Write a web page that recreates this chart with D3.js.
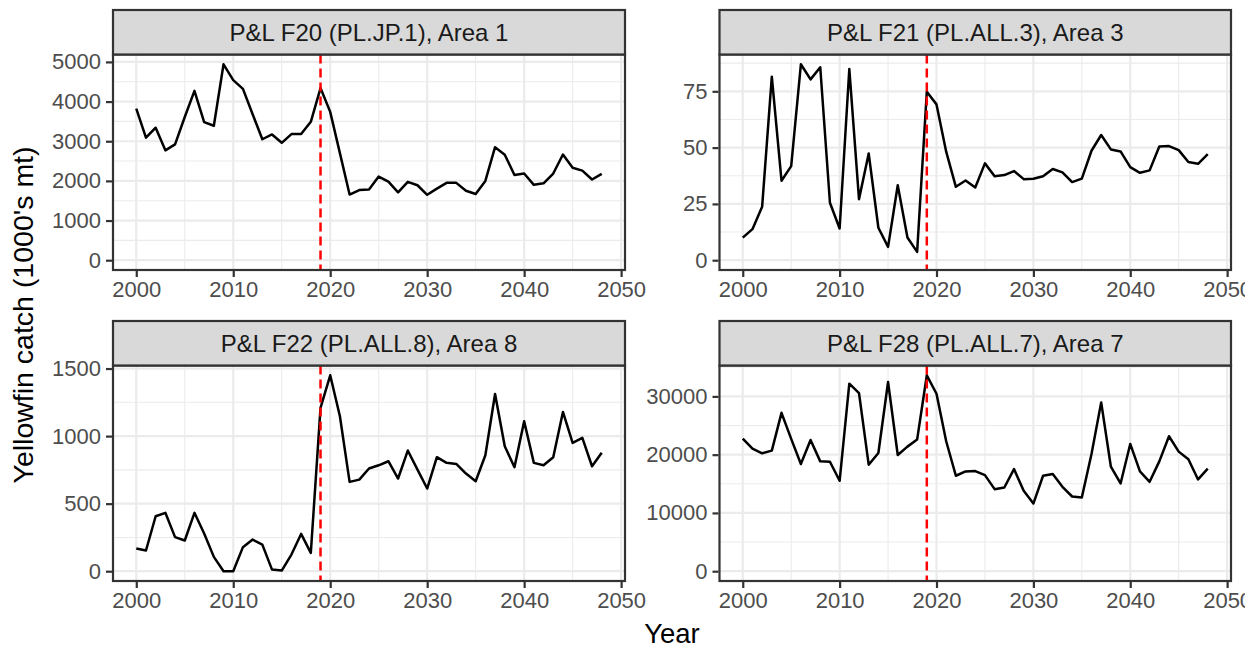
<!DOCTYPE html>
<html>
<head>
<meta charset="utf-8">
<script src="https://cdn.jsdelivr.net/npm/d3@7"></script>
<style>
  html, body { margin: 0; padding: 0; background: #ffffff; }
  svg { display: block; font-family: "Liberation Sans", Arial, Helvetica, sans-serif; }
</style>
</head>
<body>
<svg id="chart" width="1258" height="648"></svg>
<script>
// Yellowfin catch by fishery, 2000-2048
const years = d3.range(2000, 2049);

const panelTitles = [
  "P&L F20 (PL.JP.1), Area 1",
  "P&L F21 (PL.ALL.3), Area 3",
  "P&L F22 (PL.ALL.8), Area 8",
  "P&L F28 (PL.ALL.7), Area 7"
];

const catchF20 = [3820, 3090, 3340, 2770, 2920, 3610, 4270, 3480, 3390, 4940,
  4540, 4320, 3680, 3050, 3170, 2960, 3180, 3180, 3490, 4340,
  3740, 2700, 1655, 1770, 1780, 2110, 1980, 1710, 1975, 1890,
  1650, 1805, 1950, 1950, 1750, 1670, 2000, 2850, 2660, 2150,
  2185, 1900, 1940, 2185, 2665, 2330, 2260, 2035, 2175];

const catchF21 = [10.0, 13.8, 23.7, 81.5, 35.3, 41.8, 87.0, 80.3, 85.7, 25.5,
  14.1, 84.9, 27.1, 47.4, 14.4, 5.9, 33.3, 10.1, 3.7, 74.8,
  69.2, 48.2, 32.6, 35.4, 32.3, 43.0, 37.3, 37.8, 39.6, 36.0,
  36.2, 37.3, 40.5, 39.0, 34.7, 36.2, 48.6, 55.6, 49.2, 48.3,
  41.3, 38.8, 39.9, 50.5, 50.7, 48.9, 43.6, 42.8, 47.1];

const catchF22 = [168, 153, 407, 432, 252, 227, 432, 279, 106, 0,
  0, 178, 234, 197, 12, 5, 123, 276, 136, 1209,
  1450, 1147, 661, 678, 760, 784, 814, 686, 893, 752,
  612, 844, 802, 794, 723, 666, 858, 1312, 925, 770,
  1110, 802, 784, 844, 1179, 950, 987, 777, 876];

const catchF28 = [22760, 21030, 20230, 20690, 27180, 22700, 18390, 22530, 18850, 18790,
  15520, 32180, 30570, 18280, 20290, 32470, 19940, 21380, 22590, 33620,
  30460, 22300, 16380, 17130, 17180, 16490, 14080, 14370, 17530, 13790,
  11610, 16380, 16670, 14480, 12820, 12640, 20110, 28970, 17930, 15060,
  21840, 17130, 15340, 18850, 23160, 20520, 19200, 15750, 17590];

const yTicksF20 = [0, 1000, 2000, 3000, 4000, 5000];
const yTicksF21 = [0, 25, 50, 75];
const yTicksF22 = [0, 500, 1000, 1500];
const yTicksF28 = [0, 10000, 20000, 30000];

const xTicks = [2000, 2010, 2020, 2030, 2040, 2050];
const refYear = 2019;

const xLabel = "Year";
const yLabel = "Yellowfin catch (1000's mt)";

const panels = [
  { title: panelTitles[0], values: catchF20, ticks: yTicksF20 },
  { title: panelTitles[1], values: catchF21, ticks: yTicksF21 },
  { title: panelTitles[2], values: catchF22, ticks: yTicksF22 },
  { title: panelTitles[3], values: catchF28, ticks: yTicksF28 }
];

// layout
const colX = [[113, 625], [719.5, 1231]];
const rowTop = [10, 321];
const stripH = 44.5;
const plotH = 215.5;

const svg = d3.select("#chart");
const tickFont = 22;
const stripFont = 24;

// the drawing area ends a little short of the window's right edge
svg.append("defs").append("clipPath").attr("id", "canvas-clip")
  .append("rect").attr("x", 0).attr("y", 0).attr("width", 1245).attr("height", 648);
const root = svg.append("g").attr("clip-path", "url(#canvas-clip)");

function expand(lo, hi, mult) {
  const d = hi - lo;
  return [lo - d * mult, hi + d * mult];
}

const xMin = d3.min(years), xMax = d3.max(years);

panels.forEach((p, i) => {
  const col = i % 2, row = Math.floor(i / 2);
  const [x0, x1] = colX[col];
  const stripTop = rowTop[row];
  const y0 = stripTop + stripH, y1 = y0 + plotH;

  const x = d3.scaleLinear().domain(expand(xMin, xMax, 0.05)).range([x0, x1]);
  const lo = Math.min(0, d3.min(p.values)), hi = d3.max(p.values);
  const y = d3.scaleLinear().domain(expand(lo, hi, 0.05)).range([y1, y0]);

  const g = root.append("g");

  g.append("rect").attr("x", x0).attr("y", y0).attr("width", x1 - x0).attr("height", y1 - y0)
    .attr("fill", "#ffffff");

  // minor grid: halfway between major breaks
  const xd = x.domain(), yd = y.domain();
  const xStep = xTicks[1] - xTicks[0];
  const xMinor = d3.range(xTicks[0] - xStep / 2, xTicks[xTicks.length - 1] + xStep, xStep)
    .filter(v => v > xd[0] && v < xd[1]);
  const yStep = p.ticks[1] - p.ticks[0];
  const yMinor = d3.range(p.ticks[0] - yStep / 2, p.ticks[p.ticks.length - 1] + yStep, yStep)
    .filter(v => v > yd[0] && v < yd[1]);

  g.selectAll(".xminor").data(xMinor).join("line")
    .attr("x1", d => x(d)).attr("x2", d => x(d)).attr("y1", y0).attr("y2", y1)
    .attr("stroke", "#EBEBEB").attr("stroke-width", 1.1);
  g.selectAll(".yminor").data(yMinor).join("line")
    .attr("y1", d => y(d)).attr("y2", d => y(d)).attr("x1", x0).attr("x2", x1)
    .attr("stroke", "#EBEBEB").attr("stroke-width", 1.1);

  const xMajor = xTicks.filter(v => v >= xd[0] && v <= xd[1]);
  g.selectAll(".xmajor").data(xMajor).join("line")
    .attr("x1", d => x(d)).attr("x2", d => x(d)).attr("y1", y0).attr("y2", y1)
    .attr("stroke", "#EBEBEB").attr("stroke-width", 2.2);
  g.selectAll(".ymajor").data(p.ticks).join("line")
    .attr("y1", d => y(d)).attr("y2", d => y(d)).attr("x1", x0).attr("x2", x1)
    .attr("stroke", "#EBEBEB").attr("stroke-width", 2.2);

  // catch series
  const line = d3.line().x((d, k) => x(years[k])).y(d => y(d));
  g.append("path").datum(p.values)
    .attr("d", line)
    .attr("fill", "none").attr("stroke", "#000000").attr("stroke-width", 2.5)
    .attr("stroke-linejoin", "round");

  // reference year
  g.append("line")
    .attr("x1", x(refYear)).attr("x2", x(refYear)).attr("y1", y0).attr("y2", y1)
    .attr("stroke", "#FF0000").attr("stroke-width", 2.5).attr("stroke-dasharray", "9,5");

  // panel border
  g.append("rect").attr("x", x0).attr("y", y0).attr("width", x1 - x0).attr("height", y1 - y0)
    .attr("fill", "none").attr("stroke", "#333333").attr("stroke-width", 2.2);

  // strip
  g.append("rect").attr("x", x0).attr("y", stripTop).attr("width", x1 - x0).attr("height", stripH)
    .attr("fill", "#D9D9D9").attr("stroke", "#333333").attr("stroke-width", 2.2);
  g.append("text")
    .attr("x", (x0 + x1) / 2).attr("y", stripTop + stripH / 2)
    .attr("dy", "0.36em").attr("text-anchor", "middle")
    .attr("font-size", stripFont).attr("fill", "#1A1A1A")
    .text(p.title);

  // axes
  const ax = g.append("g").attr("transform", `translate(0,${y1})`)
    .call(d3.axisBottom(x).tickValues(xTicks).tickFormat(d3.format("d")).tickSize(6).tickPadding(5));
  const ay = g.append("g").attr("transform", `translate(${x0},0)`)
    .call(d3.axisLeft(y).tickValues(p.ticks).tickFormat(d3.format("d")).tickSize(6).tickPadding(6));
  [ax, ay].forEach(a => {
    a.select(".domain").remove();
    a.selectAll(".tick line").attr("stroke", "#333333").attr("stroke-width", 2.2);
    a.selectAll(".tick text").attr("fill", "#4D4D4D").attr("font-size", tickFont)
      .attr("font-family", "Liberation Sans, Arial, sans-serif");
  });
  ax.selectAll(".tick line").attr("transform", "translate(0,1)");
  ay.selectAll(".tick line").attr("transform", "translate(-1,0)");
});

// axis titles
root.append("text")
  .attr("x", (colX[0][0] + colX[1][1]) / 2).attr("y", 643)
  .attr("text-anchor", "middle").attr("font-size", 27.5).attr("fill", "#000000")
  .text(xLabel);

root.append("text")
  .attr("transform", "translate(33,315) rotate(-90)")
  .attr("text-anchor", "middle").attr("font-size", 28.5).attr("fill", "#000000")
  .text(yLabel);
</script>
</body>
</html>
